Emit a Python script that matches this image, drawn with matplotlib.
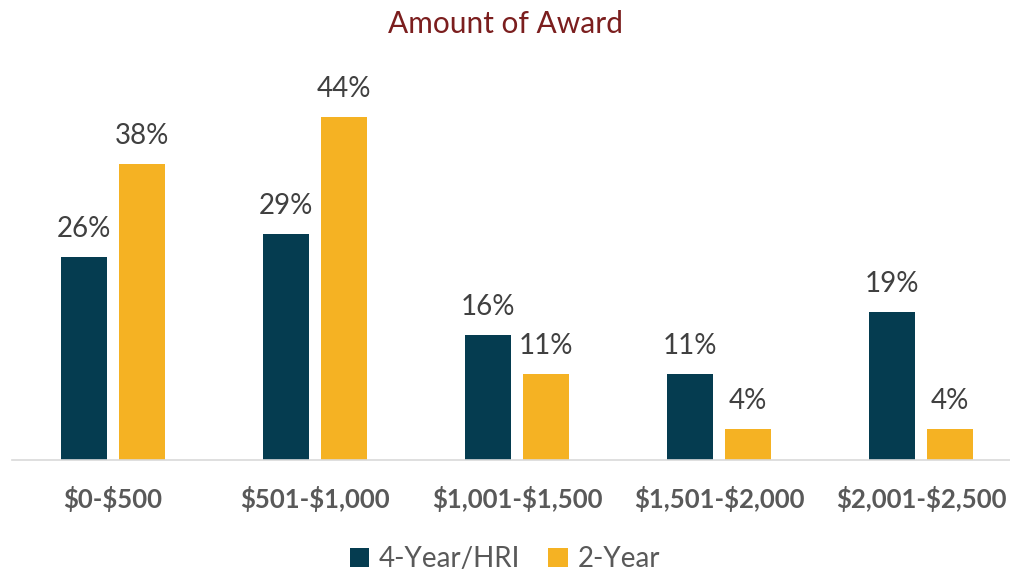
import matplotlib
matplotlib.use("Agg")
import matplotlib.pyplot as plt
import numpy as np

categories = ["$0-$500", "$501-$1,000", "$1,001-$1,500", "$1,501-$2,000", "$2,001-$2,500"]
series_names = ["4-Year/HRI", "2-Year"]
four_year = [26, 29, 16, 11, 19]
two_year = [38, 44, 11, 4, 4]

plt.rcParams['font.family'] = ['Lato', 'DejaVu Sans']
plt.rcParams['text.parse_math'] = False

fig = plt.figure(figsize=(10.10, 5.73), dpi=100)
ax = fig.add_axes([12/1010, 113/573, 998/1010, 390/573])

x = np.arange(len(categories))
w = 0.228
off = 0.142
c1, c2 = "#053C50", "#F5B223"
b1 = ax.bar(x - off, four_year, w, color=c1, label=series_names[0])
b2 = ax.bar(x + off, two_year, w, color=c2, label=series_names[1])

for bars, vals in ((b1, four_year), (b2, two_year)):
    for r, v in zip(bars, vals):
        ax.text(r.get_x() + r.get_width()/2, v + 1.9, f"{v}%", ha="center", va="bottom",
                fontsize=20, color="#404040")

ax.set_xlim(-0.5, 4.44)
ax.set_ylim(0, 50)
ax.set_yticks([])
ax.set_xticks(x)
ax.set_xticklabels(categories, fontsize=18.5, fontweight="bold", color="#595959")
ax.tick_params(axis="x", length=0, pad=19)
for s in ["top", "right", "left"]:
    ax.spines[s].set_visible(False)
ax.spines["bottom"].set_color("#D9D9D9")
ax.spines["bottom"].set_linewidth(1.2)

fig.text(0.5, 1 - 24/573, "Amount of Award", ha="center", va="center", fontsize=21.5, color="#7B1E1E")

leg = fig.legend(loc="center", bbox_to_anchor=(0.5, 1 - 559/573), ncol=2, frameon=False,
                 fontsize=20, handlelength=0.7, handleheight=0.7, handletextpad=0.35, columnspacing=1.0)
for t in leg.get_texts():
    t.set_color("#595959")

fig.savefig("out.png", dpi=100)
